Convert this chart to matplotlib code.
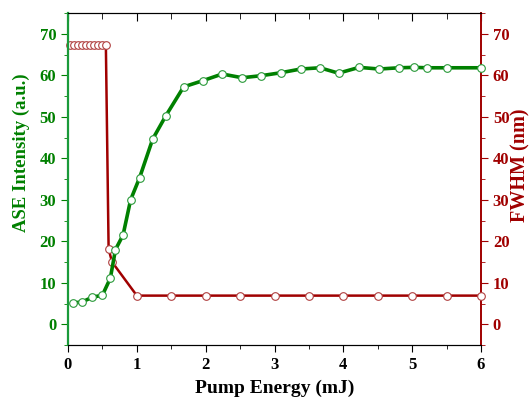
import numpy as np
import matplotlib
matplotlib.use('Agg')
import matplotlib.pyplot as plt
from matplotlib.ticker import MultipleLocator

# ASE intensity vs pump energy
ase_x = [0.07, 0.21, 0.35, 0.50, 0.615, 0.69, 0.80, 0.91, 1.04, 1.23, 1.42, 1.68,
         1.96, 2.24, 2.53, 2.81, 3.09, 3.38, 3.66, 3.93, 4.23, 4.52, 4.81, 5.03,
         5.22, 5.50, 6.00]
ase_y = [5.1, 5.4, 6.5, 7.0, 11.1, 18.0, 21.5, 30.0, 35.3, 44.6, 50.2, 57.2,
         58.7, 60.3, 59.4, 59.9, 60.6, 61.5, 61.8, 60.5, 61.9, 61.5, 61.8, 61.9,
         61.8, 61.8, 61.8]

# FWHM vs pump energy
fwhm_x = [0.03, 0.09, 0.15, 0.20, 0.26, 0.32, 0.38, 0.43, 0.49, 0.55, 0.59, 0.64,
          1.0, 1.5, 2.0, 2.5, 3.0, 3.5, 4.0, 4.5, 5.0, 5.5, 6.0]
fwhm_y = [67.4, 67.4, 67.4, 67.4, 67.4, 67.4, 67.4, 67.4, 67.4, 67.4, 18.1, 15.0,
          6.9, 6.9, 6.9, 6.9, 6.9, 6.9, 6.9, 6.9, 6.9, 6.9, 6.9]

green = '#008000'
spine_green = '#1a9a3a'
red = '#a00000'

plt.rcParams['font.family'] = 'Liberation Serif'
plt.rcParams['font.weight'] = 'bold'

fig = plt.figure(figsize=(5.31, 4.01), dpi=100)
ax = fig.add_axes([68/531, 1-345/401, (481-68)/531, (345-13)/401])
ax2 = ax.twinx()

ax2.plot(fwhm_x, fwhm_y, color=red, lw=1.8, marker='o', ms=5.5,
         mfc='white', mec='#b04040', mew=0.8, clip_on=False, zorder=3)
ax.plot(ase_x, ase_y, color=green, lw=2.6, marker='o', ms=5.5,
        mfc='white', mec='#2a9a3a', mew=0.8, clip_on=False, zorder=4)
ax.set_zorder(ax2.get_zorder() + 1)
ax.patch.set_visible(False)

for a in (ax, ax2):
    a.set_xlim(0, 6)
    a.set_ylim(-5, 75)
    a.yaxis.set_major_locator(MultipleLocator(10))
    a.yaxis.set_minor_locator(MultipleLocator(5))
    a.xaxis.set_major_locator(MultipleLocator(1))
    a.xaxis.set_minor_locator(MultipleLocator(0.5))

# bottom ticks outward, top ticks inward
ax.tick_params(axis='x', which='both', direction='out', top=False, labelsize=12)
ax.tick_params(axis='x', which='major', length=5)
ax.tick_params(axis='x', which='minor', length=3)
ax2.xaxis.set_visible(True)
ax2.tick_params(axis='x', which='both', direction='in', bottom=False, top=True,
                labelbottom=False, labeltop=False)
ax2.tick_params(axis='x', which='major', length=6)
ax2.tick_params(axis='x', which='minor', length=4)

ax.tick_params(axis='y', which='major', colors=green, length=5, labelsize=12)
ax.tick_params(axis='y', which='minor', colors=green, length=3)
ax2.tick_params(axis='y', which='major', colors=red, length=5, labelsize=12)
ax2.tick_params(axis='y', which='minor', colors=red, length=3)

ax.spines['left'].set_color(spine_green)
ax.spines['left'].set_linewidth(1.6)
ax2.spines['left'].set_visible(False)
ax2.spines['right'].set_color(red)
ax2.spines['right'].set_linewidth(1.4)
ax.spines['right'].set_visible(False)

ax.set_xlabel('Pump Energy (mJ)', fontsize=14, fontweight='bold', labelpad=5)
ax.set_ylabel('ASE Intensity (a.u.)', fontsize=13.5, fontweight='bold', color=green)
ax2.set_ylabel('FWHM (nm)', fontsize=14.5, fontweight='bold', color=red)
ax.yaxis.set_label_coords(-0.092, 0.58)
ax2.yaxis.set_label_coords(1.072, 0.542)

fig.savefig('out.png', dpi=100)
